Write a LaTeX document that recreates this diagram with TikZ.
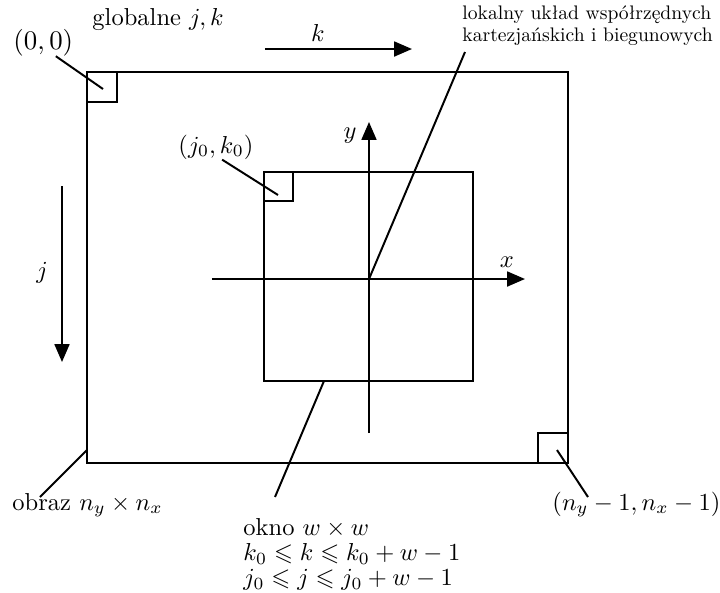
\documentclass[tikz,border=0pt]{standalone}
\usepackage{amsmath}
\usepackage{amssymb}
\usepackage{fontspec}
\newfontfamily\lokfont{lmroman10-regular}[Extension=.otf]
\usepackage{tikz}
\usetikzlibrary{arrows.meta, positioning, calc}
\tikzset{
	frame/.style={draw=black, line width=0.8pt},
	leader/.style={draw=black, line width=0.8pt},
	axisarrow/.style={-{Triangle[length=7.3pt,width=6.1pt]}, line width=0.8pt},
	lbl/.style={inner sep=0pt, font=\normalsize},
	biglbl/.style={inner sep=0pt, font=\fontsize{11}{13}\selectfont},
	notelbl/.style={inner sep=0pt, font=\lokfont\fontsize{8}{9.2}\selectfont, align=left},
	oknolbl/.style={inner sep=0pt, font=\fontsize{10}{10.2}\selectfont, align=left},
}

\begin{document}
\begin{tikzpicture}[x=0.408pt, y=-0.408pt]
		\useasboundingbox (0,0) rectangle (720,592);
		% obraz
		\coordinate (img-nw) at (87,72);
		\coordinate (img-se) at (568,463);
		\draw[frame] (img-nw) rectangle (img-se);
		\draw[frame] (img-nw) rectangle ++(30,30);
		\draw[frame] (img-se) rectangle ++(-30,-30);
		\node[lbl, anchor=base west] (glob) at (92,25) {globalne $j,k$};
		\node[biglbl, anchor=base west] (zero) at (13,49) {$(0,0)$};
		\coordinate (p00) at (103,89);
		\draw[leader] (zero.-48) -- (p00);
		\node[lbl, anchor=base west] (obraz) at (12,510) {obraz $n_y\times n_x$};
		\coordinate (img-w) at (87,450);
		\coordinate (obraz-tip) at (40,497);
		\draw[leader] (img-w) -- (obraz-tip);
		\node[lbl, anchor=base west] (corner) at (552,510) {$(n_y-1,n_x-1)$};
		\coordinate (pnn) at (557,450);
		\coordinate (corner-tip) at (588,497);
		\draw[leader] (pnn) -- (corner-tip);
		% globalne kierunki
		\coordinate (ka) at (265,49);
		\coordinate (kb) at (412,49);
		\draw[axisarrow] (ka) -- (kb);
		\node[lbl, anchor=base] (klbl) at (318,41) {$k$};
		\coordinate (ja) at (62,186);
		\coordinate (jb) at (62,362);
		\draw[axisarrow] (ja) -- (jb);
		\node[lbl, anchor=base] (jlbl) at (42,278) {$j$};
		% okno
		\coordinate (win-nw) at (264,172);
		\coordinate (win-se) at (473,381);
		\draw[frame] (win-nw) rectangle (win-se);
		\draw[frame] (win-nw) rectangle ++(29,29);
		\node[lbl, anchor=base west] (jk) at (178,153) {$(j_0,k_0)$};
		\coordinate (pjk) at (278,195);
		\draw[leader] (jk.-64) -- (pjk);
		\node[oknolbl, anchor=north west] (okno) at (243,518)
			{okno $w\times w$\\$k_0\leqslant k\leqslant k_0+w-1$\\$j_0\leqslant j\leqslant j_0+w-1$};
		\coordinate (win-b) at (324,381);
		\coordinate (okno-tip) at (275,497);
		\draw[leader] (win-b) -- (okno-tip);
		% lokalny uklad
		\coordinate (org) at (369,279);
		\coordinate (xa) at (212,279);
		\coordinate (xb) at (525,279);
		\coordinate (ya) at (369,433);
		\coordinate (yb) at (369,122);
		\draw[axisarrow] (xa) -- (xb);
		\draw[axisarrow] (ya) -- (yb);
		\node[lbl, anchor=base] (xlbl) at (507,267) {$x$};
		\node[lbl, anchor=base] (ylbl) at (350,138) {$y$};
		\node[notelbl, anchor=north west] (lok) at (462,5)
			{lokalny układ współrzędnych\\kartezjańskich i biegunowych};
		\coordinate (lok-tip) at (465,52);
		\draw[leader] (org) -- (lok-tip);
\end{tikzpicture}
\end{document}
